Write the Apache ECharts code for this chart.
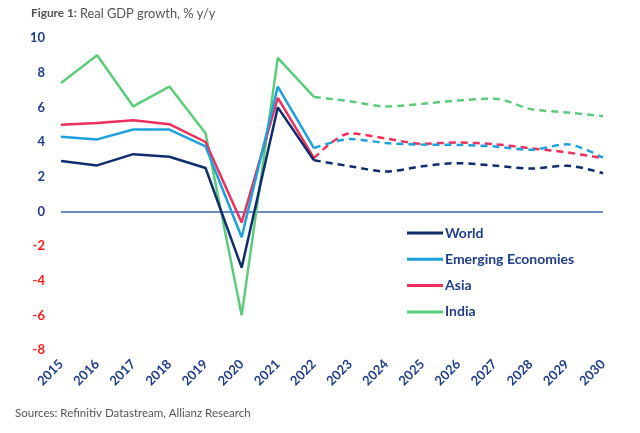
<!DOCTYPE html>
<html>
<head>
<meta charset="utf-8">
<script src="https://cdn.jsdelivr.net/npm/echarts@6/dist/echarts.min.js"></script>
<style>
html,body{margin:0;padding:0;background:#fff;}
#chart{width:640px;height:433px;}
</style>
</head>
<body>
<div id="chart"></div>
<script>
const years = ['2015','2016','2017','2018','2019','2020','2021','2022','2023','2024','2025','2026','2027','2028','2029','2030'];
const world    = [2.9, 2.65, 3.3, 3.15, 2.5, -3.25, 6.0, 2.95, 2.6, 2.3, 2.6, 2.78, 2.64, 2.47, 2.63, 2.2];
const emerging = [4.3, 4.15, 4.72, 4.72, 3.75, -1.5, 7.2, 3.65, 4.17, 3.94, 3.85, 3.83, 3.74, 3.55, 3.87, 3.1];
const asia     = [5.0, 5.1, 5.25, 5.03, 4.0, -0.65, 6.55, 3.07, 4.5, 4.2, 3.9, 3.97, 3.87, 3.64, 3.4, 3.07];
const india    = [7.4, 9.0, 6.05, 7.2, 4.5, -6.0, 8.85, 6.6, 6.35, 6.05, 6.2, 6.4, 6.5, 5.9, 5.7, 5.5];
const lastActual = 7; // index of 2022

const names = ['World','Emerging Economies','Asia','India'];
const values = [world, emerging, asia, india];
const colors = ['#0f2d6e','#1da1dc','#ee2f5b','#5ccb7c'];

function part(arr, solid){
  return arr.map((v,i)=> solid ? (i<=lastActual ? v : null) : (i>=lastActual ? v : null));
}

const series = [];
names.forEach((n,k)=>{
  series.push({
    name:n, type:'line', data:part(values[k],true), symbol:'none',
    lineStyle:{color:colors[k], width:2.5}, itemStyle:{color:colors[k]},
    z: 10-k
  });
});
names.forEach((n,k)=>{
  series.push({
    name:n, type:'line', data:part(values[k],false), symbol:'none', smooth:0.3,
    lineStyle:{color:colors[k], width:2.5, type:[7,5]}, itemStyle:{color:colors[k]},
    z: 10-k
  });
});
series[0].markLine = {
  silent:true, symbol:'none', label:{show:false},
  lineStyle:{color:'#6f8bbd', width:2, type:'solid'},
  data:[{yAxis:0}], z:1
};

const chart = echarts.init(document.getElementById('chart'));
chart.setOption({
  animation:false,
  backgroundColor:'#fff',
  textStyle:{fontFamily:'Lato'},
  graphic:[{
    type:'text', x:31, y:7,
    style:{text:'Figure 1:', x:0, y:0, align:'left', verticalAlign:'top', fontFamily:'Lato', fontWeight:700, fontSize:11.8, fill:'#555'}
  },{
    type:'text', x:80, y:7,
    style:{text:'Real GDP growth, % y/y', x:0, y:0, align:'left', verticalAlign:'top', fontFamily:'Lato', fontWeight:'normal', fontSize:12.8, fill:'#555'}
  },{
    type:'text', x:15, y:407,
    style:{
      text:'Sources: Refinitiv Datastream, Allianz Research', x:0, y:0, align:'left', verticalAlign:'top',
      fontFamily:'Lato', fontWeight:'normal', fontSize:11.5, fill:'#555'
    }
  }],
  legend:{
    orient:'vertical', left:402, top:221,
    icon:'rect', itemWidth:36, itemHeight:3, itemGap:12.3,
    data:names,
    textStyle:{fontFamily:'Lato', fontWeight:'bold', fontSize:14, color:'#1f3d8a', padding:[0,0,0,-3]}
  },
  grid:{left:61, right:37, top:38, bottom:83, containLabel:false},
  xAxis:{
    type:'category', data:years, boundaryGap:false,
    axisLine:{show:false}, axisTick:{show:false}, splitLine:{show:false},
    axisLabel:{rotate:45, margin:12, color:'#1f3d8a', fontWeight:'bold', fontSize:13, fontFamily:'Lato', interval:0}
  },
  yAxis:{
    type:'value', min:-8, max:10, interval:2,
    axisLine:{show:false}, axisTick:{show:false}, splitLine:{show:false},
    axisLabel:{margin:16, fontWeight:'bold', fontSize:13, fontFamily:'Lato',
      color:function(v){ return v<0 ? '#ff1a1a' : '#1f3d8a'; }}
  },
  series:series
});
</script>
</body>
</html>
